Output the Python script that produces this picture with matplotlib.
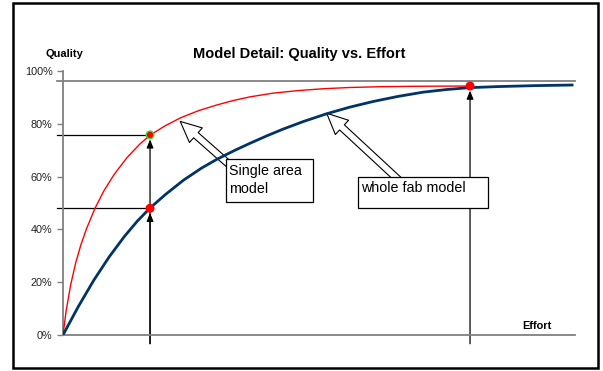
import matplotlib
matplotlib.use('Agg')
import matplotlib.pyplot as plt
from matplotlib.patches import Rectangle, FancyArrowPatch, ArrowStyle

plt.rcParams['font.family'] = ['Liberation Sans', 'DejaVu Sans']

# values (effort 0-100, quality in %)
effort_single = [0, 0.6, 1.5, 2.5, 3.5, 4.6, 6.25, 8, 10, 12.5, 15, 17, 20, 23, 26.5,
                 30, 33, 36.5, 41, 46, 51, 56, 62, 68, 74, 79.5]
quality_single = [0, 9.0, 19.0, 27.5, 34.2, 40.3, 48.0, 54.65, 60.85, 67.2, 72.3, 75.7, 79.3, 82.3, 85.0,
                  87.1, 88.7, 90.2, 91.6, 92.6, 93.3, 93.75, 94.05, 94.2, 94.27, 94.3]

effort_fab = [0, 3, 6, 9, 12, 14.5, 17, 20, 23.5, 27, 30, 33.5, 36.5, 40, 43, 47, 51.5,
              56, 60.6, 65.5, 70.4, 75, 79.5, 85, 92, 99.7]
quality_fab = [0, 10.8, 20.7, 29.55, 37.35, 43.1, 48.1, 53.2, 58.6, 63.15, 66.5, 69.9, 72.6, 75.6, 78.0, 80.9, 83.8,
               86.3, 88.46, 90.4, 92.0, 93.0, 93.7, 94.1, 94.45, 94.7]

marker_effort = [17.0, 17.0, 79.5]
marker_quality = [75.8, 48.0, 94.3]
marker_edge = ['#33dd33', 'red', 'red']

ceiling = 96.2
ytick_values = [0, 20, 40, 60, 80, 100]
ytick_labels = ['0%', '20%', '40%', '60%', '80%', '100%']

W, H = 603, 371
fig = plt.figure(figsize=(W / 100, H / 100), dpi=100)
fig.patches.append(Rectangle((13 / W, 3 / H), 585 / W, 365 / H, transform=fig.transFigure,
                             fill=False, ec='black', lw=1.8))

ax = fig.add_axes([63 / W, 36 / H, 512 / W, 264 / H])
ax.set_xlim(0, 100)
ax.set_ylim(0, 100)
for s in ['top', 'right']:
    ax.spines[s].set_visible(False)
for s in ['left', 'bottom']:
    ax.spines[s].set_color('#808080')
    ax.spines[s].set_linewidth(1.3)
ax.set_xticks([])
ax.set_yticks(ytick_values)
ax.set_yticklabels(ytick_labels, fontsize=7.8, color='#222222')
ax.tick_params(axis='y', direction='out', length=4.5, width=1.0, color='#808080', pad=3)

# ceiling line
ax.plot([-1.2, 100], [ceiling, ceiling], color='#808080', lw=1.3, clip_on=False, zorder=2)

# curves
ax.plot(effort_single, quality_single, color='red', lw=1.0, zorder=3)
ax.plot(effort_fab, quality_fab, color='#003366', lw=2.0, zorder=3, solid_capstyle='butt')

# guide lines to the y axis
for ex, q in zip(marker_effort[:2], marker_quality[:2]):
    ax.plot([-1.2, ex], [q, q], color='black', lw=0.9, clip_on=False, zorder=2)

# vertical arrows from below the axis up to the points
for ex, q in zip(marker_effort, marker_quality):
    ax.annotate('', xy=(ex, q - 1.7), xytext=(ex, -3.3),
                arrowprops=dict(arrowstyle='-|>,head_length=0.5,head_width=0.2',
                                color='black', lw=0.9, shrinkA=0, shrinkB=0),
                annotation_clip=False, zorder=2)

ax.scatter(marker_effort, marker_quality, s=30, c='red', edgecolors=marker_edge,
           linewidths=1.0, zorder=5, clip_on=False)

# callouts
style = ArrowStyle.Simple(head_length=15, head_width=14, tail_width=5)
ax.add_patch(FancyArrowPatch((33.2, 63.3), (22.9, 80.9), arrowstyle=style, mutation_scale=1,
                             fc='white', ec='black', lw=0.8, zorder=2.5, shrinkA=0, shrinkB=0))
ax.add_patch(FancyArrowPatch((66.2, 57.6), (51.5, 84.0), arrowstyle=style, mutation_scale=1,
                             fc='white', ec='black', lw=0.8, zorder=2.5, shrinkA=0, shrinkB=0))

ax.add_patch(Rectangle((31.8, 50.5), 17.0, 16.2, fc='white', ec='black', lw=0.9, zorder=4))
ax.add_patch(Rectangle((57.7, 48.0), 25.4, 12.0, fc='white', ec='black', lw=0.9, zorder=4))
ax.text(32.4, 58.7, 'Single area\nmodel', fontsize=10.3, ha='left', va='center',
        linespacing=1.3, zorder=5)
ax.text(58.2, 55.6, 'whole fab model', fontsize=10.3, ha='left', va='center', zorder=5)

# titles / axis labels
ax.text(46.2, 106.4, 'Model Detail: Quality vs. Effort', fontsize=10.5, fontweight='bold',
        ha='center', va='center', clip_on=False)
ax.text(0.3, 106.4, 'Quality', fontsize=7.9, fontweight='bold', ha='center', va='center',
        clip_on=False)
ax.text(92.6, 3.3, 'Effort', fontsize=7.9, fontweight='bold', ha='center', va='center')

fig.savefig('out.png', dpi=100)
